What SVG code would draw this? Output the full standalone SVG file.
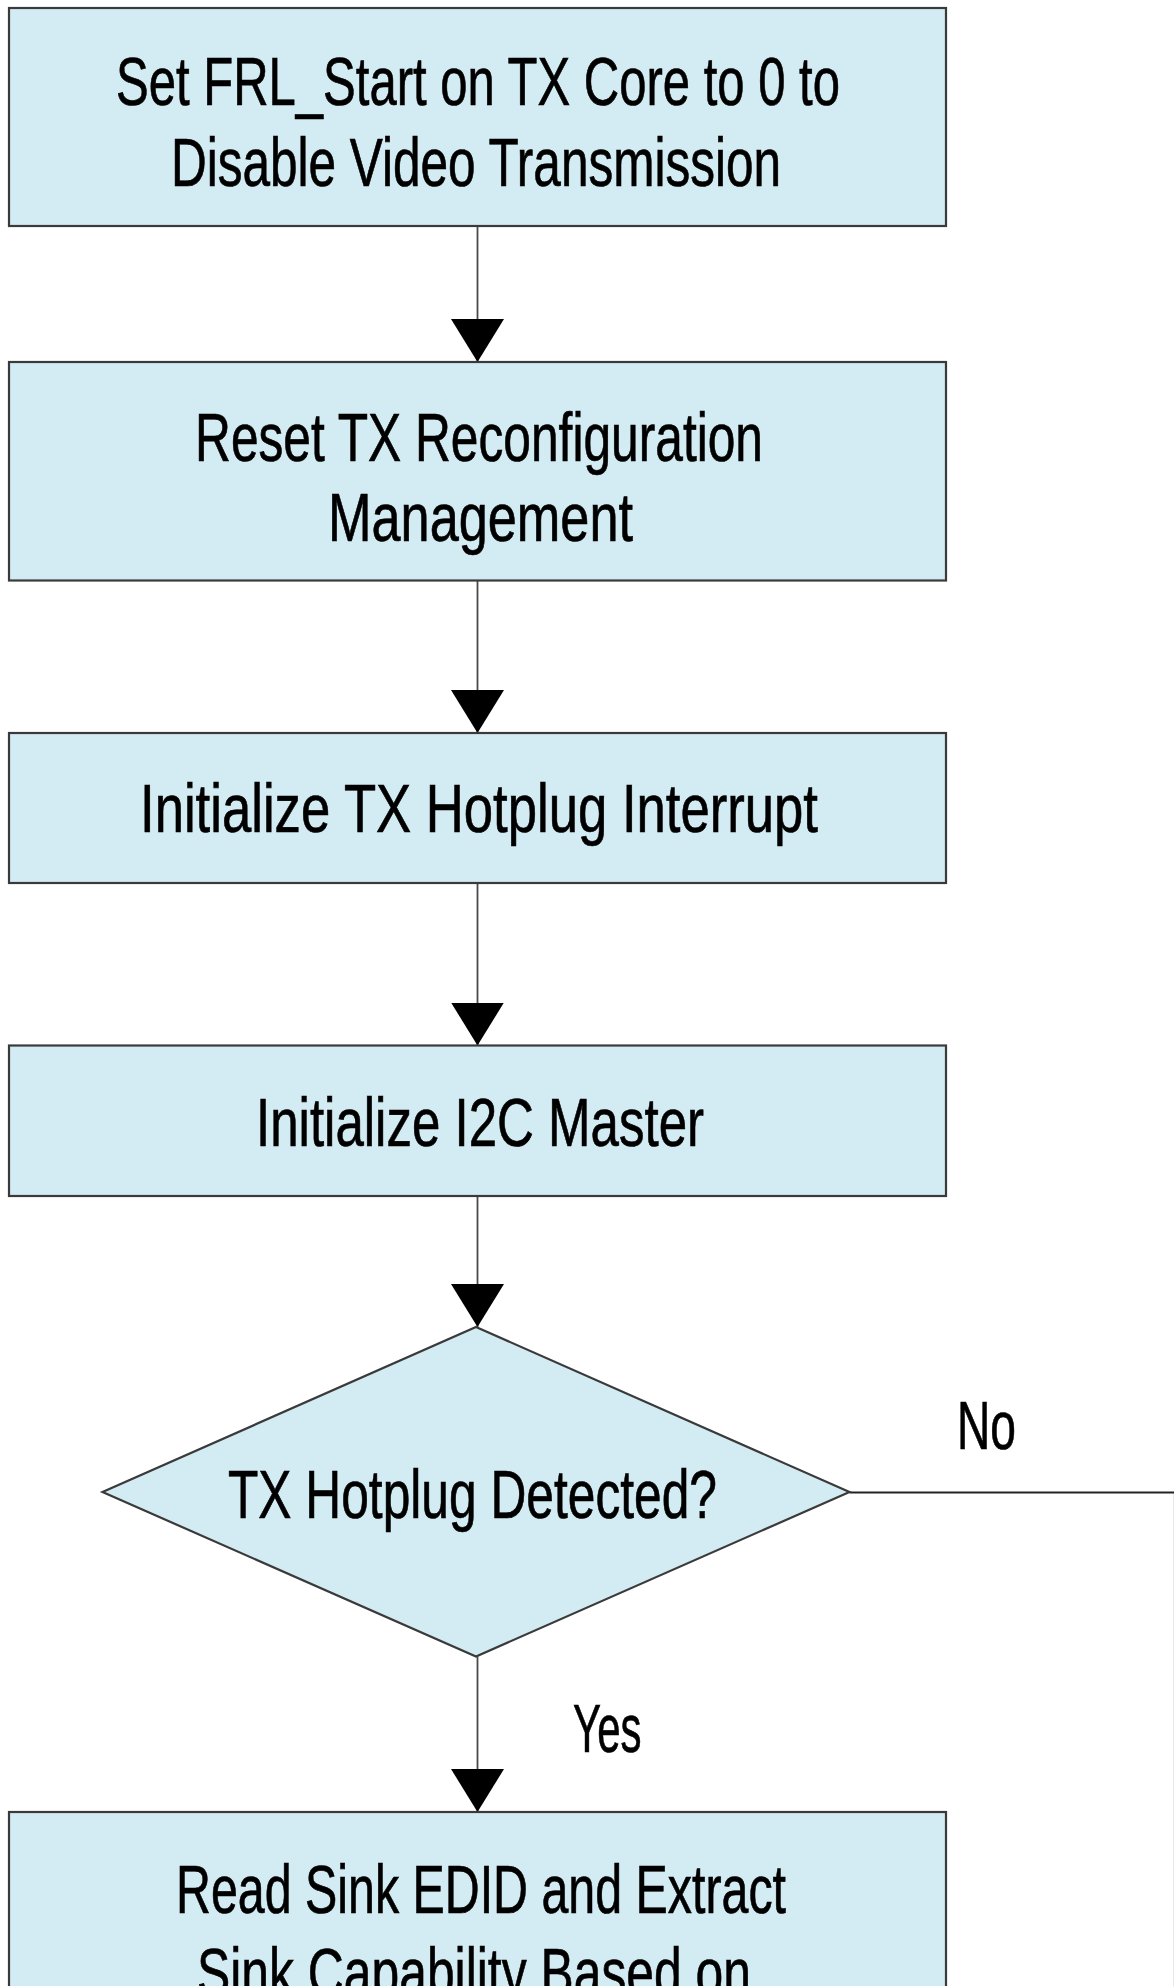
<svg xmlns="http://www.w3.org/2000/svg" width="1174" height="1986" viewBox="0 0 1174 1986">
<style>
.box{fill:#d3ebf2;stroke:#3a3a3a;stroke-width:2.2}
.t{font-family:"Liberation Sans","Arial",sans-serif;font-size:68px;fill:#000;stroke:#000;stroke-width:0.7;text-anchor:middle}
.lbl{font-family:"Liberation Sans","Arial",sans-serif;font-size:68px;fill:#000;stroke:#000;stroke-width:0.7;text-anchor:start}
.c{fill:none;stroke:#4a4a4a;stroke-width:1.8}
</style>
<defs>
<marker id="ah" markerUnits="userSpaceOnUse" markerWidth="44" markerHeight="54" refX="43" refY="26.5" orient="auto">
<path d="M0,0 L43,26.5 L0,53 z" fill="#000"/>
</marker>
</defs>
<rect width="1174" height="1986" fill="#fff"/>
<g id="connectors">
<line class="c" x1="477.5" y1="226" x2="477.5" y2="362" marker-end="url(#ah)"/>
<line class="c" x1="477.5" y1="580.5" x2="477.5" y2="733" marker-end="url(#ah)"/>
<line class="c" x1="477.5" y1="883" x2="477.5" y2="1045.5" marker-end="url(#ah)"/>
<line class="c" x1="477.5" y1="1196" x2="477.5" y2="1327" marker-end="url(#ah)"/>
<line class="c" x1="477.5" y1="1656.5" x2="477.5" y2="1812" marker-end="url(#ah)"/>
<polyline class="c" points="849.5,1492.5 1175,1492.5 1175,1986" style="stroke:#222;stroke-width:2.2"/>
<text class="lbl" x="957" y="1449" textLength="59" lengthAdjust="spacingAndGlyphs">No</text>
<text class="lbl" x="573" y="1751.5" textLength="68.5" lengthAdjust="spacingAndGlyphs">Yes</text>
</g>
<g id="n1">
<rect class="box" x="9" y="8" width="937" height="218"/>
<text class="t" x="478" y="105" textLength="724" lengthAdjust="spacingAndGlyphs">Set FRL_Start on TX Core to 0 to</text>
<text class="t" x="476" y="186" textLength="610" lengthAdjust="spacingAndGlyphs">Disable Video Transmission</text>
</g>
<g id="n2">
<rect class="box" x="9" y="362" width="937" height="218.5"/>
<text class="t" x="479" y="461" textLength="568" lengthAdjust="spacingAndGlyphs">Reset TX Reconfiguration</text>
<text class="t" x="480.5" y="541" textLength="305" lengthAdjust="spacingAndGlyphs">Management</text>
</g>
<g id="n3">
<rect class="box" x="9" y="733" width="937" height="150"/>
<text class="t" x="479" y="832" textLength="678" lengthAdjust="spacingAndGlyphs">Initialize TX Hotplug Interrupt</text>
</g>
<g id="n4">
<rect class="box" x="9" y="1045.5" width="937" height="150.5"/>
<text class="t" x="480" y="1145.5" textLength="448" lengthAdjust="spacingAndGlyphs">Initialize I2C Master</text>
</g>
<g id="n5">
<polygon class="box" points="476,1327 849.5,1492 476,1656.5 102.5,1492"/>
<text class="t" x="472.5" y="1518" textLength="489" lengthAdjust="spacingAndGlyphs">TX Hotplug Detected?</text>
</g>
<g id="n6">
<rect class="box" x="9" y="1812" width="937" height="200"/>
<text class="t" x="481" y="1913" textLength="610" lengthAdjust="spacingAndGlyphs">Read Sink EDID and Extract</text>
<text class="t" x="474" y="1996" textLength="554" lengthAdjust="spacingAndGlyphs">Sink Capability Based on</text>
</g>
</svg>
